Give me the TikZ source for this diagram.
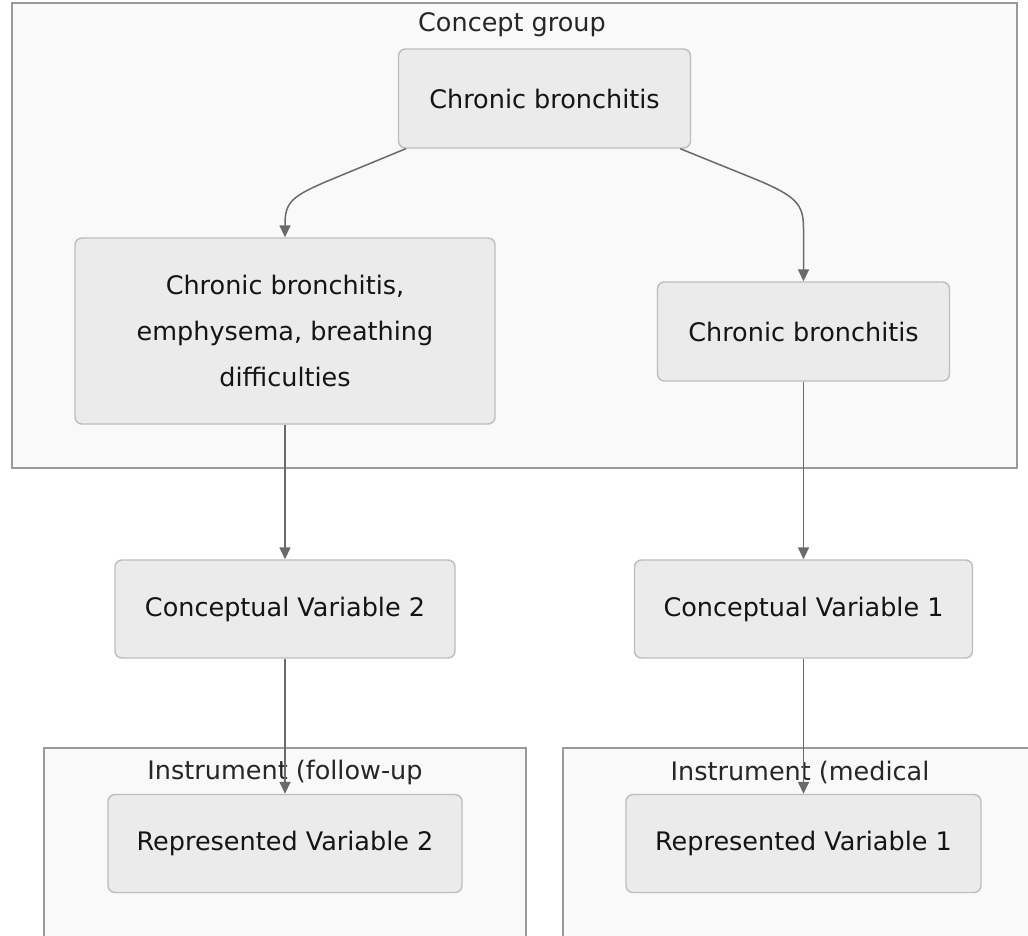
\documentclass[tikz,border=0pt]{standalone}
\usepackage{fontspec}
\setmainfont{DejaVu Sans}
\usetikzlibrary{arrows.meta}
\definecolor{clfill}{HTML}{F9F9F9}
\definecolor{clline}{HTML}{9A9A9A}
\definecolor{ndfill}{HTML}{EBEBEB}
\definecolor{ndline}{HTML}{BDBDBD}
\definecolor{edgec}{HTML}{6A6A6A}
\tikzset{
  cluster/.style={draw=clline, fill=clfill, line width=1.6pt},
  box/.style={draw=ndline, fill=ndfill, line width=1.4pt, rounded corners=7pt,
    align=center, inner sep=0pt, font={\fontsize{25.5}{46}\selectfont}, text=black!92},
  lbl/.style={font={\fontsize{25.5}{30}\selectfont}, text=black!85, inner sep=0pt},
  edge/.style={draw=edgec, line width=1.5pt, -{Triangle[length=12pt,width=11pt]}}
}
\begin{document}
\begin{tikzpicture}[x=1pt,y=-1pt]
\useasboundingbox[fill=white] (0,0) rectangle (1028,935);
\clip (0,0) rectangle (1028,935);
% clusters
\draw[cluster] (12,3) rectangle (1017,468);
\node[lbl] (cg) at (512,25) {Concept group};
\draw[cluster] (44,748) rectangle (526,960);
\node[lbl] (inst2) at (285,772) {Instrument (follow-up};
\draw[cluster] (563,748) rectangle (1060,960);
\node[lbl] (inst1) at (800,772) {Instrument (medical};
% nodes
\node[box, minimum width=292pt, minimum height=99pt] (top) at (544.5,98.5) {Chronic bronchitis};
\node[box, minimum width=420pt, minimum height=186pt] (l) at (285,331) {Chronic bronchitis,\\emphysema, breathing\\difficulties};
\node[box, minimum width=292pt, minimum height=99pt] (r) at (803.5,331.5) {Chronic bronchitis};
\node[box, minimum width=340pt, minimum height=98pt] (cv2) at (285,609) {Conceptual Variable 2};
\node[box, minimum width=338pt, minimum height=98pt] (cv1) at (803.5,609) {Conceptual Variable 1};
\node[box, minimum width=354pt, minimum height=98pt] (rv2) at (285,843.5) {Represented Variable 2};
\node[box, minimum width=355pt, minimum height=98pt] (rv1) at (803.5,843.5) {Represented Variable 1};
% edges
\draw[edge] ([xshift=8pt]top.south west) -- (330,180) .. controls (292,196) and (285,202) .. (285,224) -- (l.north);
\draw[edge] ([xshift=-11pt]top.south east) -- (755,179) .. controls (796,196) and (803.5,204) .. (803.5,228) -- (r.north);
\draw[edge] (l.south) -- (cv2.north);
\draw[edge] (r.south) -- (cv1.north);
\draw[edge] (cv2.south) -- (rv2.north);
\draw[edge] (cv1.south) -- (rv1.north);
\end{tikzpicture}
\end{document}
